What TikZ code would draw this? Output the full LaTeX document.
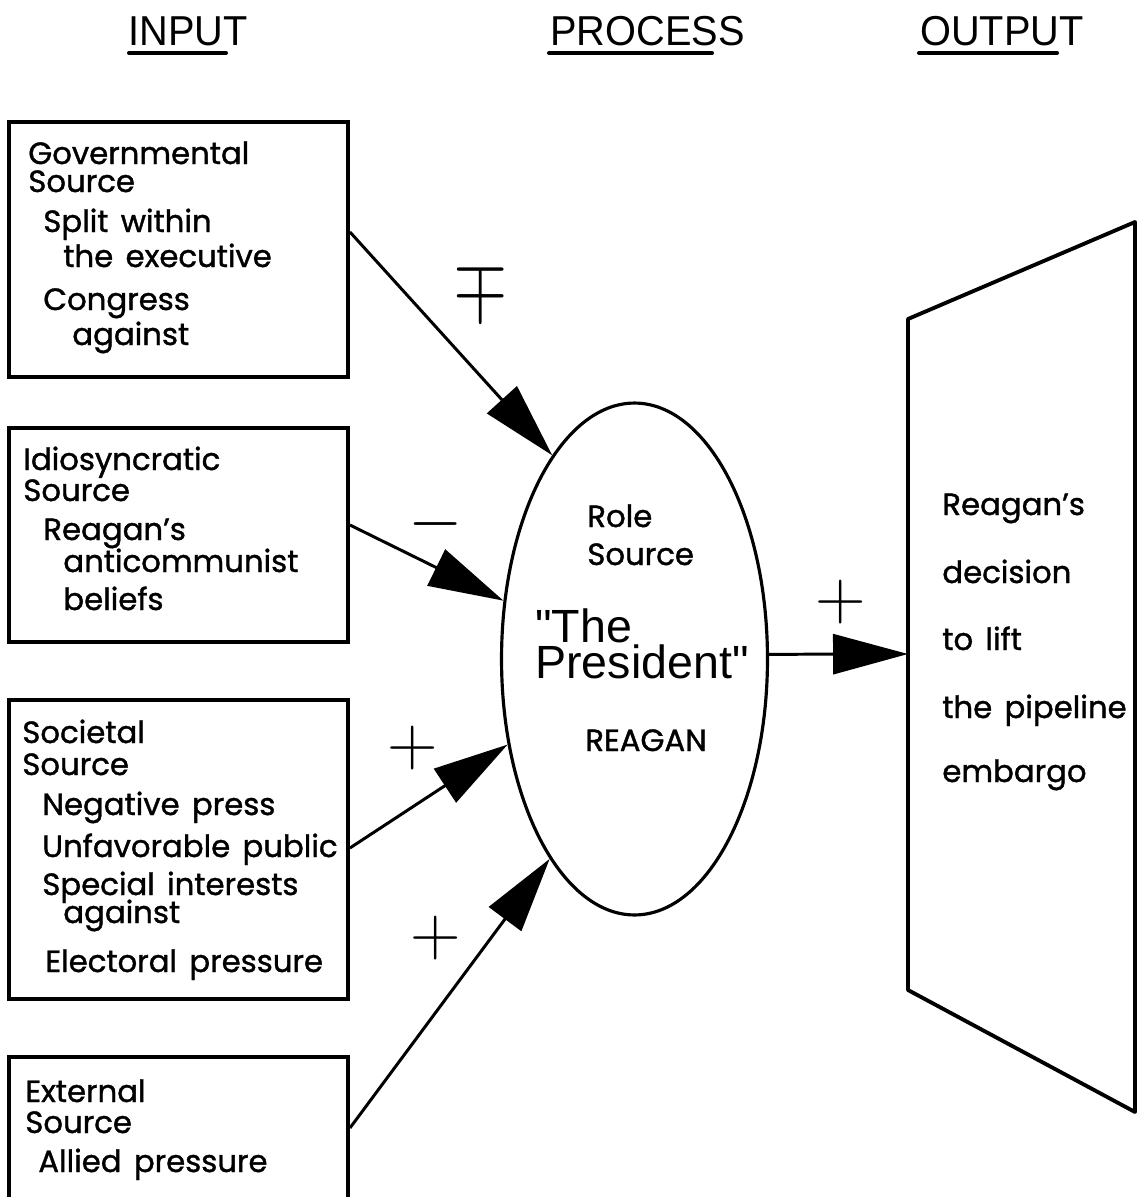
\documentclass[tikz,border=0pt]{standalone}
\usepackage{fontspec}
\setmainfont{Poppins}[FakeBold=1.2,WordSpace=1.5]
\newfontfamily\headfont{Liberation Sans}
\usetikzlibrary{arrows.meta,shapes.geometric,fit}
\begin{document}
\begin{tikzpicture}[x=0.02cm,y=-0.02cm,
  txt/.style={inner sep=0,anchor=base west,font=\fontsize{17.5}{20}\selectfont},
  head/.style={inner sep=0,anchor=base west,font=\headfont\fontsize{23.8}{26}\selectfont,xscale=0.95},
  big/.style={inner sep=0,anchor=base west,font=\headfont\fontsize{26.5}{28}\selectfont},
  sign/.style={inner sep=0,font=\fontsize{24.88}{28}\selectfont},
  box/.style={draw,line width=2.2pt,inner sep=0},
  arr/.style={line width=1.7pt,-{Triangle[length=1.5cm,width=0.8cm]}},
  uline/.style={line width=2.3pt,line cap=round}]
\useasboundingbox (0,0) rectangle (1143,1197);

% headings
\node[head] (hin) at (128,45) {INPUT};
\node[head] (hpr) at (550,45) {PROCESS};
\node[head] (hout) at (920,45) {OUTPUT};
\draw[uline] (129,53) -- (226,53);
\draw[uline] (549,53) -- (712,53);
\draw[uline] (919,53) -- (1057,53);

% boxes
\node[box,fit={(9,122) (348,377)}] (b1) {};
\node[box,fit={(9,428) (348,642)}] (b2) {};
\node[box,fit={(9,700) (348,999)}] (b3) {};
\node[box,fit={(9,1057) (348,1230)}] (b4) {};

% box texts
\node[txt,text depth=0pt] (t11) at (28,164) {Governmental};
\node[txt] (t12) at (28,192) {Source};
\node[txt] (t13) at (43,232) {Split within};
\node[txt] (t14) at (63,267) {the executive};
\node[txt] (t15) at (43,310) {Congress};
\node[txt] (t16) at (72,345) {against};

\node[txt] (t21) at (23,470) {Idiosyncratic};
\node[txt] (t22) at (23,501) {Source};
\node[txt] (t23) at (43,540) {Reagan’s};
\node[txt] (t24) at (63,572) {anticommunist};
\node[txt] (t25) at (63,610) {beliefs};

\node[txt] (t31) at (22,743) {Societal};
\node[txt] (t32) at (22,775) {Source};
\node[txt] (t33) at (42,815) {Negative press};
\node[txt] (t34) at (42,857) {Unfavorable public};
\node[txt] (t35) at (42,895) {Special interests};
\node[txt] (t36) at (63,923) {against};
\node[txt] (t37) at (45,972) {Electoral pressure};

\node[txt] (t41) at (25,1102) {External};
\node[txt] (t42) at (25,1133) {Source};
\node[txt] (t43) at (38,1172) {Allied pressure};

% process ellipse
\node[draw,ellipse,line width=1.8pt,minimum width=5.32cm,minimum height=10.24cm,inner sep=0] (P) at (634.5,659) {};
\node[txt] (e1) at (587,527) {Role};
\node[txt] (e2) at (587,565) {Source};
\node[big,text depth=0pt] (e3) at (535,642) {"The};
\node[big,text height=0.66em] (e4) at (535,678) {President"};
\node[txt] (e5) at (585,751) {REAGAN};

% output trapezoid
\draw[line width=2.2pt,line join=round] (908,319) -- (1135,222) -- (1135,1112) -- (908,990) -- cycle;
\coordinate (T) at (908,654);
\node[txt] (o1) at (942,515) {Reagan’s};
\node[txt] (o2) at (942,583) {decision};
\node[txt] (o3) at (942,650) {to lift};
\node[txt] (o4) at (942,718) {the pipeline};
\node[txt] (o5) at (942,782) {embargo};

% connectors
\draw[arr] (b1.east |- 0,232) -- (P.112.3);
\draw[arr] (b2.east |- 0,525) -- (P.156.6);
\draw[arr] (b3.east |- 0,848) -- (P.214.4);
\draw[arr] (b4.east |- 0,1128) -- (P.247);
\draw[arr] (P.2) -- (T);

% signs
\node[sign] (s1) at (481,289) {\scalebox{1.6}[1.95]{$\mp$}};
\node[sign] (s2) at (436,524) {\scalebox{1.6}{$-$}};
\node[sign] (s3) at (413,748) {\scalebox{1.6}{$+$}};
\node[sign] (s4) at (436,938) {\scalebox{1.6}{$+$}};
\node[sign] (s5) at (841,602) {\scalebox{1.6}{$+$}};
\end{tikzpicture}
\end{document}
